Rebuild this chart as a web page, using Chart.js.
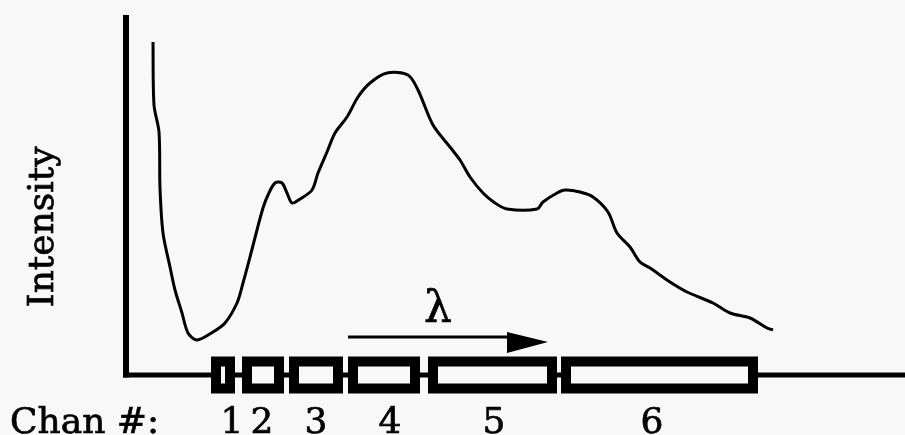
<!DOCTYPE html>
<html>
<head>
<meta charset="utf-8">
<script src="https://cdn.jsdelivr.net/npm/chart.js@4"></script>
<style>
  html, body { margin: 0; padding: 0; background: #f8f8f8; }
  canvas { display: block; }
</style>
</head>
<body>
<canvas id="spectrum" width="905" height="435"></canvas>
<script>
// spectrum trace (wavelength position, intensity)
const wavelength = [27, 28, 33, 34, 37, 44, 49, 56, 62, 71, 87, 99, 111, 117, 124, 131, 137, 142, 149, 156,
  161, 166, 174, 186, 192, 201, 209, 221, 232, 244, 261, 282, 292, 307, 324, 334, 344, 357, 369, 381,
  411, 417, 431, 439, 454, 467, 482, 491, 504, 514, 524, 544, 561, 587, 604, 624, 641, 647];
const intensity = [333, 270, 243, 187, 142, 108, 85, 62, 42, 35, 43, 52, 72, 92, 118, 145, 167, 180, 192, 192,
  182, 172, 176, 185, 202, 223, 242, 258, 278, 292, 302, 300, 285, 250, 228, 215, 198, 182, 172, 166,
  166, 173, 182, 185, 183, 178, 163, 142, 128, 113, 107, 93, 83, 72, 62, 57, 47, 45];

// detector channels along the wavelength axis
const chanStart = [85, 116, 163, 222, 302, 435];
const chanEnd = [109, 158, 217, 294, 431, 632];
const chanLabelPos = [106, 136, 190, 264, 368, 526];
const chanLabels = ["1", "2", "3", "4", "5", "6"];

const serif = '"DejaVu Serif", "Liberation Serif", serif';

// draws text a little heavier, like the scanned original
function heavyText(ctx, t, px, py) {
  ctx.fillText(t, px, py);
  ctx.strokeText(t, px, py);
}

const diagram = {
  id: "diagram",
  beforeDatasetsDraw(chart) {
    const { ctx, chartArea } = chart;
    const x = chart.scales.x, y = chart.scales.y;
    const x0 = x.getPixelForValue(0), y0 = y.getPixelForValue(0);
    ctx.save();
    ctx.fillStyle = "#000";
    // y axis
    ctx.fillRect(x0 - 3, chartArea.top, 6, y0 - chartArea.top + 2.5);
    // baseline
    ctx.fillRect(x0 - 3, y0 - 2.5, x.getPixelForValue(x.max) - x0 + 3, 5);

    // channel boxes
    ctx.strokeStyle = "#000";
    ctx.lineWidth = 10;
    const top = y.getPixelForValue(18.5), bot = y.getPixelForValue(-18.5);
    chanStart.forEach((s, i) => {
      const l = x.getPixelForValue(s), r = x.getPixelForValue(chanEnd[i]);
      ctx.fillStyle = "#f8f8f8";
      ctx.fillRect(l, top, r - l, bot - top);
      ctx.strokeRect(l + 5, top + 5, r - l - 10, bot - top - 10);
    });

    // lambda arrow
    ctx.fillStyle = "#000";
    const ay = y.getPixelForValue(38);
    ctx.fillRect(x.getPixelForValue(222), ay - 1.5, x.getPixelForValue(381) - x.getPixelForValue(222), 3);
    ctx.beginPath();
    ctx.moveTo(x.getPixelForValue(381), y.getPixelForValue(43));
    ctx.lineTo(x.getPixelForValue(422), y.getPixelForValue(33));
    ctx.lineTo(x.getPixelForValue(381), y.getPixelForValue(22));
    ctx.closePath();
    ctx.fill();

    ctx.lineWidth = 0.7;
    ctx.font = "44px " + serif;
    ctx.textAlign = "center";
    ctx.textBaseline = "alphabetic";
    heavyText(ctx, "\u03BB", x.getPixelForValue(312), y.getPixelForValue(53));

    // labels
    ctx.font = "36px " + serif;
    chanLabels.forEach((t, i) => {
      heavyText(ctx, t, x.getPixelForValue(chanLabelPos[i]), 433);
    });
    ctx.textAlign = "left";
    heavyText(ctx, "Chan #:", 10, 433);

    ctx.translate(x0 - 73, (chartArea.top + y0) / 2 + 32);
    ctx.rotate(-Math.PI / 2);
    ctx.textAlign = "center";
    heavyText(ctx, "Intensity", 0, 0);
    ctx.restore();
  }
};

new Chart(document.getElementById("spectrum"), {
  type: "line",
  data: {
    datasets: [{
      data: wavelength.map((w, i) => ({ x: w, y: intensity[i] })),
      borderColor: "#000",
      borderWidth: 3,
      pointRadius: 0,
      tension: 0.3,
      fill: false
    }]
  },
  options: {
    responsive: false,
    animation: false,
    layout: { padding: { left: 126, top: 15, right: 0, bottom: 60 } },
    scales: {
      x: { type: "linear", min: 0, max: 779, display: false },
      y: { min: 0, max: 360, display: false }
    },
    plugins: { legend: { display: false }, tooltip: { enabled: false } }
  },
  plugins: [diagram]
});
</script>
</body>
</html>
